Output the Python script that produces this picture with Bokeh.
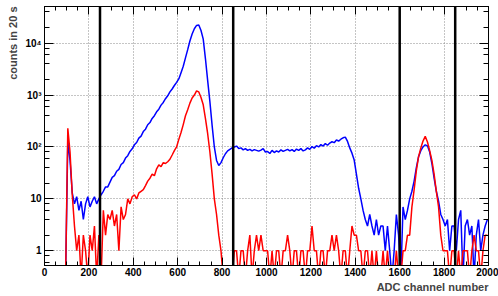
import numpy as np
from bokeh.plotting import figure
from bokeh.models import (Range1d, SingleIntervalTicker, LogTicker, LinearAxis,
                          LogAxis, Span, Title, CustomJSTickFormatter)
from bokeh.embed import file_html
from bokeh.resources import INLINE

# ---------------- data (10-channel bins, 0..2000) ----------------
bin_starts = list(range(0, 2000, 10))

blue_counts = [
    0, 0, 0, 0, 0, 0, 0, 0, 0, 0,
    130, 55, 13, 8, 11, 6, 9, 4, 8, 11,
    7, 9, 11, 8, 10, 12, 14, 17, 17, 21,
    26, 28, 34, 37, 46, 50, 61, 68, 82, 92,
    110, 122, 148, 162, 198, 220, 268, 295, 355, 400,
    475, 535, 640, 720, 850, 970, 1150, 1310, 1530, 1760,
    2050, 2700, 3600, 5200, 7500, 11000, 15000, 19000, 22000, 22500,
    17500, 12000, 5000, 1900, 750, 260, 100, 55, 44, 50,
    62, 74, 84, 90, 96, 100, 104, 93, 96, 88,
    93, 86, 90, 84, 89, 86, 83, 87, 93, 80,
    82, 75, 86, 78, 84, 80, 88, 82, 86, 90,
    84, 89, 82, 91, 86, 93, 84, 88, 96, 90,
    102, 95, 106, 100, 111, 104, 116, 108, 119, 126,
    121, 136, 130, 141, 150, 155, 128, 96, 76, 56,
    30, 16, 10, 6, 4, 3, 5, 3, 2, 4,
    2, 3, 3, 1, 3, 1, 0, 1, 5, 2,
    0, 7, 4, 6, 10, 14, 22, 40, 65, 85,
    100, 110, 105, 80, 48, 25, 14, 9, 5, 4,
    3, 4, 1, 3, 3, 1, 4, 6, 0, 3,
    4, 2, 3, 0, 2, 4, 1, 2, 3, 4,
]

red_counts = [
    0, 0, 0, 0, 0, 0, 0, 0, 0, 0,
    230, 80, 12, 3, 1, 2, 0, 2, 1, 0,
    2, 1, 3, 0, 2, 0, 6, 2, 5, 4,
    6, 3, 5, 1, 7, 4, 5, 10, 8, 11,
    12, 10, 13, 14, 15, 18, 22, 25, 30, 28,
    38, 45, 42, 50, 48, 52, 58, 70, 85, 100,
    140, 190, 270, 400, 520, 700, 880, 1000, 1200, 1150,
    900, 650, 350, 180, 80, 30, 10, 5, 2, 1,
    0, 0, 0, 0, 0, 1, 1, 0, 1, 1,
    0, 1, 2, 0, 1, 2, 1, 2, 1, 1,
    1, 0, 1, 0, 1, 1, 0, 1, 1, 2,
    1, 0, 1, 1, 0, 1, 1, 0, 1, 1,
    3, 1, 1, 0, 1, 1, 0, 1, 1, 2,
    1, 2, 1, 0, 1, 1, 0, 1, 3, 2,
    2, 1, 1, 0, 1, 1, 0, 1, 0, 1,
    0, 0, 1, 0, 1, 0, 0, 0, 1, 0,
    0, 1, 1, 2, 2, 7, 15, 35, 65, 95,
    130, 160, 125, 85, 55, 30, 14, 7, 2, 1,
    1, 1, 0, 1, 1, 0, 1, 0, 1, 1,
    1, 0, 1, 2, 1, 1, 0, 1, 2, 2,
]

cut_channels = [250, 850, 1600, 1850]
y_tick_labels = {1: "1", 10: "10", 100: "10\u00b2", 1000: "10\u00b3", 10000: "10\u2074"}
x_label = "ADC channel number"
y_label = "counts in 20 s"

# ---------------- plotting ----------------
BIN_W = 10
FLOOR = 0.3   # empty bins are drawn below the visible range (like ROOT)
centers = np.array(bin_starts) + BIN_W / 2
blue_y = np.where(np.array(blue_counts) > 0, blue_counts, FLOOR).astype(float)
red_y = np.where(np.array(red_counts) > 0, red_counts, FLOOR).astype(float)

FONT = "Liberation Sans"

p = figure(width=498, height=296, y_axis_type="log",
           x_range=Range1d(0, 2000), y_range=Range1d(0.52, 50900),
           output_backend="svg", toolbar_location=None,
           min_border_left=44, min_border_right=10, min_border_top=6,
           min_border_bottom=31)

p.outline_line_color = "black"
p.outline_line_width = 1
p.background_fill_color = "white"
p.border_fill_color = "white"

xt = SingleIntervalTicker(interval=200, num_minor_ticks=4)
yt = LogTicker()
blank = CustomJSTickFormatter(code="return ''")

def style_axis(ax, major_len, minor_len):
    ax.axis_line_color = "black"
    ax.major_tick_line_color = "black"
    ax.minor_tick_line_color = "black"
    ax.major_tick_in = major_len
    ax.major_tick_out = 0
    ax.minor_tick_in = minor_len
    ax.minor_tick_out = 0
    ax.major_label_text_font = FONT
    ax.major_label_text_font_style = "bold"
    ax.major_label_text_font_size = "10px"
    ax.major_label_text_color = "black"

xa = p.xaxis[0]
xa.ticker = xt
style_axis(xa, 8, 4)
xa.major_label_standoff = 2

ya = p.yaxis[0]
ya.ticker = yt
style_axis(ya, 9, 5)
ya.major_label_standoff = 3
ya.major_label_overrides = y_tick_labels

top = LinearAxis(ticker=SingleIntervalTicker(interval=200, num_minor_ticks=4),
                 formatter=blank)
style_axis(top, 8, 4)
top.major_label_standoff = 0
p.add_layout(top, "above")

right = LogAxis(ticker=LogTicker(), formatter=blank)
style_axis(right, 9, 5)
right.major_label_standoff = 0
p.add_layout(right, "right")

p.xgrid.ticker = xt
p.ygrid.ticker = yt
for g in (p.xgrid, p.ygrid):
    g.grid_line_color = "#8a8a8a"
    g.grid_line_dash = "1 2"
    g.grid_line_width = 1

p.line(centers, blue_y, line_color="#0000ff", line_width=1.5)
p.line(centers, red_y, line_color="#ff0000", line_width=1.5)

for c in cut_channels:
    p.add_layout(Span(location=c, dimension="height", line_color="black",
                      line_width=2.5))

xt_title = Title(text=x_label, align="right", text_font=FONT,
                 text_font_style="bold", text_font_size="11px",
                 standoff=0, offset=0)
p.add_layout(xt_title, "below")
yt_title = Title(text=y_label, align="right", text_font=FONT,
                 text_font_style="bold", text_font_size="11px",
                 standoff=8, offset=0)
p.add_layout(yt_title, "left")

open("out.html", "w").write(file_html(p, INLINE))
